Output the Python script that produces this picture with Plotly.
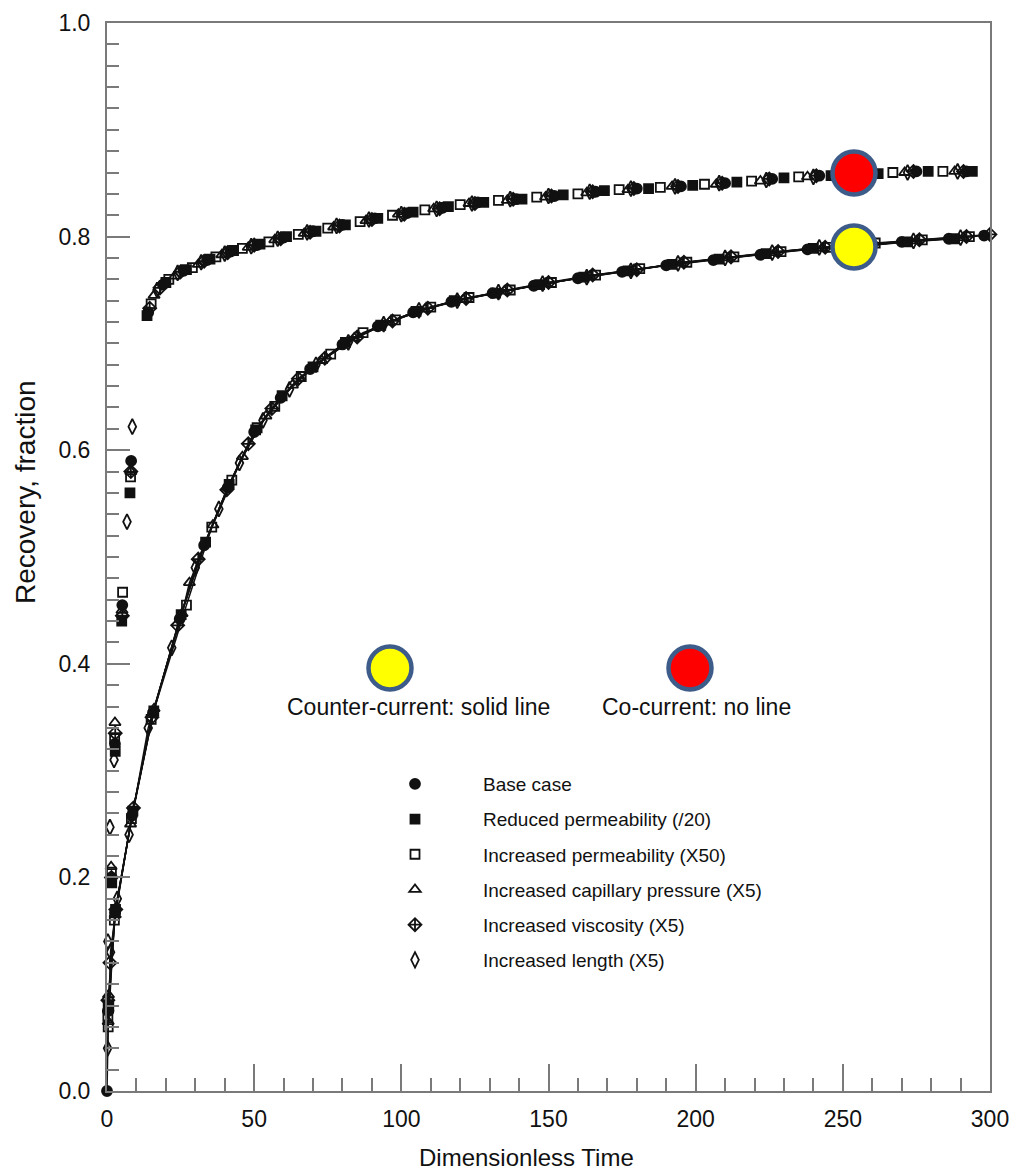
import plotly.graph_objects as go

# ---------------- data ----------------
case_names = [
    "Base case",
    "Reduced permeability (/20)",
    "Increased permeability (X50)",
    "Increased capillary pressure (X5)",
    "Increased viscosity (X5)",
    "Increased length (X5)",
]

# Counter-current (solid line)
cc_base_t = [0, 0.5, 2.7, 8.5, 15.6, 24.7, 33, 41, 50, 59, 69, 80, 92, 104, 117, 131, 145, 160, 175, 190, 206, 222, 238, 254, 270, 286, 298]
cc_base_r = [0.0, 0.075, 0.167, 0.258, 0.354, 0.442, 0.511, 0.565, 0.617, 0.649, 0.676, 0.699, 0.716, 0.729, 0.739, 0.747, 0.754, 0.761, 0.767, 0.773, 0.778, 0.783, 0.788, 0.791, 0.795, 0.798, 0.801]

cc_redk_t = [0.6, 2.9, 8.8, 15.9, 25.2, 33.5, 41.5, 50.5, 59.5, 70, 81, 93, 105, 118, 132, 147, 162, 177, 192, 208, 224, 240, 256, 272, 288]
cc_redk_r = [0.08, 0.17, 0.262, 0.356, 0.446, 0.514, 0.568, 0.619, 0.651, 0.678, 0.701, 0.717, 0.730, 0.740, 0.747, 0.755, 0.762, 0.768, 0.774, 0.779, 0.784, 0.789, 0.791, 0.795, 0.798]

cc_inck_t = [0.4, 2.5, 8.3, 15.0, 27.0, 35.6, 42.4, 51, 57, 66, 76, 87, 98, 110, 123, 137, 151, 166, 181, 197, 213, 229, 245, 261, 277, 293]
cc_inck_r = [0.06, 0.16, 0.255, 0.348, 0.455, 0.528, 0.572, 0.621, 0.641, 0.669, 0.690, 0.710, 0.722, 0.734, 0.743, 0.750, 0.757, 0.764, 0.770, 0.776, 0.781, 0.786, 0.790, 0.794, 0.797, 0.800]

cc_pc_t = [0.5, 2.8, 8.0, 16.0, 25.5, 28.0, 36.0, 46.0, 54, 63, 73, 84, 96, 108, 121, 135, 149, 164, 179, 195, 211, 227, 243, 259, 275, 291]
cc_pc_r = [0.09, 0.165, 0.25, 0.358, 0.447, 0.476, 0.530, 0.594, 0.632, 0.661, 0.684, 0.705, 0.720, 0.732, 0.741, 0.749, 0.756, 0.763, 0.769, 0.775, 0.780, 0.785, 0.789, 0.792, 0.796, 0.799]

cc_visc_t = [1.0, 3.0, 9.0, 15.3, 24.0, 31.0, 40.7, 48, 56, 65, 74, 85, 97, 109, 122, 136, 150, 165, 180, 196, 212, 228, 244, 260, 276, 292, 300]
cc_visc_r = [0.12, 0.17, 0.265, 0.35, 0.436, 0.498, 0.563, 0.606, 0.639, 0.667, 0.686, 0.706, 0.721, 0.733, 0.742, 0.750, 0.757, 0.764, 0.769, 0.776, 0.781, 0.786, 0.790, 0.793, 0.797, 0.800, 0.802]

cc_len_t = [0.2, 1.2, 3.5, 7.5, 14.0, 22.0, 30.0, 38.0, 45, 53, 62, 71, 82, 94, 106, 119, 133, 148, 163, 178, 194, 210, 226, 242, 258, 274, 290]
cc_len_r = [0.04, 0.13, 0.18, 0.24, 0.34, 0.415, 0.49, 0.545, 0.588, 0.628, 0.657, 0.680, 0.701, 0.718, 0.731, 0.740, 0.748, 0.756, 0.762, 0.768, 0.775, 0.780, 0.785, 0.790, 0.792, 0.796, 0.799]

# Co-current (no line)
co_base_t = [0.3, 1.5, 2.7, 5.2, 8.2, 14, 19, 26, 34, 42, 51, 60, 70, 80, 91, 102, 114, 126, 139, 152, 166, 180, 195, 210, 226, 242, 258, 275, 292]
co_base_r = [0.075, 0.2, 0.325, 0.455, 0.59, 0.729, 0.755, 0.768, 0.778, 0.786, 0.792, 0.799, 0.805, 0.811, 0.817, 0.822, 0.827, 0.832, 0.835, 0.838, 0.842, 0.845, 0.847, 0.850, 0.854, 0.857, 0.859, 0.861, 0.861]

co_redk_t = [0.4, 1.6, 2.8, 5.0, 7.8, 13.6, 20, 27, 35, 43, 52, 61, 71, 81, 92, 104, 116, 128, 141, 155, 169, 184, 199, 214, 230, 246, 262, 279, 294]
co_redk_r = [0.08, 0.195, 0.318, 0.44, 0.56, 0.726, 0.757, 0.769, 0.779, 0.787, 0.793, 0.800, 0.805, 0.811, 0.817, 0.823, 0.828, 0.832, 0.835, 0.839, 0.843, 0.845, 0.848, 0.851, 0.855, 0.857, 0.859, 0.861, 0.861]

co_inck_t = [0.3, 1.5, 2.6, 5.3, 8.0, 15, 21, 29, 37, 46, 55, 65, 75, 86, 97, 108, 120, 133, 146, 160, 174, 188, 203, 219, 235, 251, 267, 284]
co_inck_r = [0.07, 0.205, 0.33, 0.467, 0.575, 0.737, 0.760, 0.771, 0.781, 0.789, 0.795, 0.802, 0.808, 0.814, 0.820, 0.825, 0.830, 0.834, 0.837, 0.840, 0.844, 0.846, 0.849, 0.852, 0.856, 0.858, 0.860, 0.861]

co_pc_t = [0.4, 1.4, 2.7, 5.1, 8.1, 16, 23, 31, 39, 48, 57, 67, 77, 88, 99, 111, 123, 136, 149, 163, 177, 192, 207, 222, 238, 254, 271, 288]
co_pc_r = [0.065, 0.21, 0.345, 0.45, 0.58, 0.745, 0.763, 0.774, 0.783, 0.790, 0.797, 0.803, 0.809, 0.815, 0.821, 0.826, 0.831, 0.834, 0.837, 0.841, 0.844, 0.847, 0.849, 0.852, 0.856, 0.859, 0.860, 0.861]

co_visc_t = [0.3, 1.5, 2.8, 5.2, 8.1, 14.5, 18, 25, 33, 41, 50, 59, 69, 79, 90, 101, 113, 125, 138, 151, 165, 179, 194, 209, 225, 241, 257, 274, 291]
co_visc_r = [0.085, 0.2, 0.335, 0.445, 0.58, 0.733, 0.752, 0.767, 0.777, 0.785, 0.792, 0.798, 0.804, 0.810, 0.816, 0.821, 0.826, 0.831, 0.835, 0.838, 0.842, 0.845, 0.847, 0.850, 0.854, 0.857, 0.859, 0.861, 0.861]

co_len_t = [0.3, 1.0, 2.4, 6.8, 8.6, 17, 24, 32, 40, 49, 58, 68, 78, 89, 100, 112, 124, 137, 150, 164, 178, 193, 208, 224, 240, 256, 272, 289]
co_len_r = [0.14, 0.247, 0.31, 0.533, 0.622, 0.75, 0.766, 0.776, 0.784, 0.791, 0.798, 0.804, 0.810, 0.816, 0.821, 0.826, 0.831, 0.835, 0.838, 0.842, 0.845, 0.847, 0.850, 0.853, 0.856, 0.858, 0.860, 0.861]

x_tick_vals = [0, 50, 100, 150, 200, 250, 300]
y_tick_vals = [0.0, 0.2, 0.4, 0.6, 0.8, 1.0]
y_tick_text = ["0.0", "0.2", "0.4", "0.6", "0.8", "1.0"]

# ---------------- styling ----------------
FONT = "Liberation Sans, Arial, Helvetica, sans-serif"
INK = "#111111"
AXIS = "#7a7a7a"
symbols = ["circle", "square", "square-open", "triangle-up-open", "diamond-cross-open", "diamond-tall-open"]
sizes = [10, 9, 9, 10, 10, 11]

cc_series = [(cc_base_t, cc_base_r), (cc_redk_t, cc_redk_r), (cc_inck_t, cc_inck_r),
             (cc_pc_t, cc_pc_r), (cc_visc_t, cc_visc_r), (cc_len_t, cc_len_r)]
co_series = [(co_base_t, co_base_r), (co_redk_t, co_redk_r), (co_inck_t, co_inck_r),
             (co_pc_t, co_pc_r), (co_visc_t, co_visc_r), (co_len_t, co_len_r)]

fig = go.Figure()

for i, (t, r) in enumerate(cc_series):
    fig.add_trace(go.Scatter(
        x=t, y=r, mode="lines+markers", name=case_names[i],
        legendgroup=f"g{i}", showlegend=False,
        line=dict(color=INK, width=1.5),
        marker=dict(symbol=symbols[i], size=sizes[i], color=INK,
                    line=dict(color=INK, width=1.8)),
        cliponaxis=False,
    ))

for i, (t, r) in enumerate(co_series):
    fig.add_trace(go.Scatter(
        x=t, y=r, mode="markers", name=case_names[i],
        legendgroup=f"g{i}", showlegend=True,
        marker=dict(symbol=symbols[i], size=sizes[i], color=INK,
                    line=dict(color=INK, width=1.8)),
        cliponaxis=False,
    ))

# plot-area geometry helpers (paper coords)
L, R_, T, B = 107, 990, 23, 1091
W_PLOT, H_PLOT = R_ - L, B - T

def px(xp):
    return (xp - L) / W_PLOT

def py(yp):
    return (B - yp) / H_PLOT

circle_specs = [
    (854, 247, "#ffff00"),
    (854, 173, "#ff0000"),
    (390, 668, "#ffff00"),
    (690, 668, "#ff0000"),
]
shapes = []
for cx, cy, col in circle_specs:
    shapes.append(dict(
        type="circle", xref="paper", yref="paper",
        xsizemode="pixel", ysizemode="pixel",
        xanchor=px(cx), yanchor=py(cy),
        x0=-21.5, x1=21.5, y0=-21.5, y1=21.5,
        fillcolor=col, line=dict(color="#3e5c8a", width=4.5),
        layer="above",
    ))

annotations = [
    dict(text="Counter-current: solid line", xref="paper", yref="paper",
         x=px(418), y=py(707), showarrow=False, xanchor="center", yanchor="middle",
         font=dict(family=FONT, size=23, color=INK)),
    dict(text="Co-current: no line", xref="paper", yref="paper",
         x=px(696), y=py(707), showarrow=False, xanchor="center", yanchor="middle",
         font=dict(family=FONT, size=23, color=INK)),
    dict(text="Recovery, fraction", xref="paper", yref="paper",
         x=px(25), y=py(492), showarrow=False, textangle=-90,
         xanchor="center", yanchor="middle",
         font=dict(family=FONT, size=28, color=INK)),
    dict(text="Dimensionless Time", xref="paper", yref="paper",
         x=px(526), y=py(1157), showarrow=False, xanchor="center", yanchor="middle",
         font=dict(family=FONT, size=24, color=INK)),
]

fig.update_layout(
    width=1009, height=1171,
    margin=dict(l=L, r=1009 - R_, t=T, b=1171 - B, pad=0, autoexpand=False),
    paper_bgcolor="white", plot_bgcolor="white",
    font=dict(family=FONT, color=INK),
    shapes=shapes, annotations=annotations,
    showlegend=True,
    legend=dict(
        x=px(347), y=py(765), xanchor="left", yanchor="top",
        bgcolor="rgba(0,0,0,0)", borderwidth=0,
        font=dict(family=FONT, size=19, color=INK),
        traceorder="grouped", tracegroupgap=7.5, itemwidth=126,
    ),
    xaxis=dict(
        range=[0, 300], tickmode="array", tickvals=x_tick_vals,
        ticks="inside", ticklen=27, tickwidth=2, tickcolor=AXIS,
        showline=True, linecolor=AXIS, linewidth=2, mirror=True,
        showgrid=False, zeroline=False, automargin=False,
        tickfont=dict(family=FONT, size=23, color=INK),
        ticklabelstandoff=6, ticklabeloverflow="allow",
        minor=dict(dtick=10, ticks="inside", ticklen=13, tickwidth=2, tickcolor=AXIS, showgrid=False),
    ),
    yaxis=dict(
        range=[0, 1], tickmode="array", tickvals=y_tick_vals, ticktext=y_tick_text,
        ticks="inside", ticklen=23, tickwidth=2, tickcolor=AXIS,
        showline=True, linecolor=AXIS, linewidth=2, mirror=True,
        showgrid=False, zeroline=False, automargin=False,
        tickfont=dict(family=FONT, size=23, color=INK),
        ticklabelstandoff=10, ticklabeloverflow="allow",
        minor=dict(dtick=0.02, ticks="inside", ticklen=12, tickwidth=2, tickcolor=AXIS, showgrid=False),
    ),
)

fig.write_html("out.html")
